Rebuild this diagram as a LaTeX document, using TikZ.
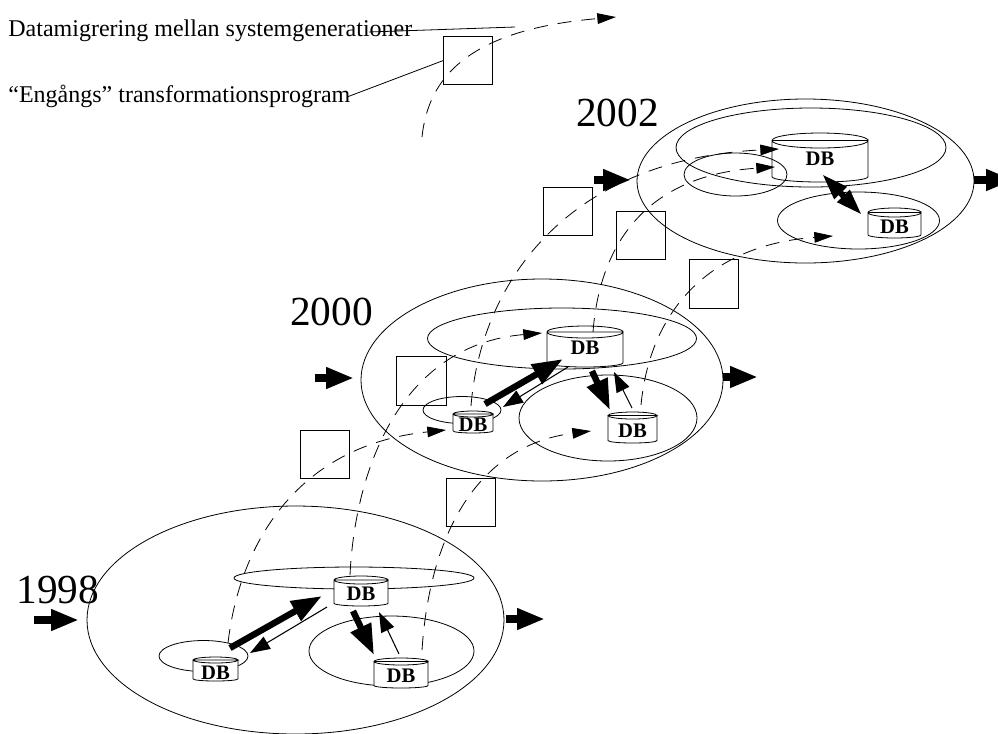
\documentclass[tikz,border=0pt]{standalone}
\usepackage{fontspec}
\setmainfont{Liberation Serif}
\usetikzlibrary{arrows.meta,shapes.geometric}
\tikzset{
  ring/.style={ellipse,draw,inner sep=0pt,outer sep=0pt},
  box/.style={rectangle,draw,inner sep=0pt,outer sep=0pt,minimum width=37pt,minimum height=36.5pt},
  migr/.style={dash pattern=on 10.5pt off 7.5pt,-{Triangle[length=14pt,width=8pt]}},
  blockarrow/.style={line width=6pt,-{Triangle[length=21pt,width=15pt]}},
  thickarrow/.style={line width=4.8pt,-{Triangle[length=23pt,width=16pt]}},
  twohead/.style={line width=4.5pt,{Triangle[length=20pt,width=12pt]}-{Triangle[length=20pt,width=12pt]}},
  thinarrow/.style={line width=0.8pt,-{Triangle[length=15pt,width=10.5pt]}},
  leader/.style={line width=0.6pt},
  label/.style={anchor=west,inner sep=0pt,font=\fontsize{18pt}{20pt}\selectfont},
  year/.style={inner sep=0pt,font=\fontsize{31pt}{34pt}\selectfont},
  dbtext/.style={inner sep=0pt,font=\fontsize{15.5pt}{17pt}\selectfont\bfseries}
}
\newcommand{\ringat}[5]{\node[ring,minimum width={#4*1.5pt},minimum height={#5*1.5pt}] (#1) at (#2,#3) {};}
\newcommand{\boxat}[3]{\node[box] (#1) at (#2,#3) {};}
% name, x0, y0, x1, y1, ry, text y
\newcommand{\dbat}[7]{%
  \path[draw,fill=white] (#2,{#3+#6}) -- (#2,{#5-0.7*#6})
     arc[start angle=180,end angle=0,x radius={(#4-#2)/2},y radius={0.7*#6}]
     -- (#4,{#3+#6})
     arc[start angle=0,end angle=360,x radius={(#4-#2)/2},y radius=#6] -- cycle;
  \node[dbtext] (#1) at ({(#2+#4)/2},#7) {DB};}
\begin{document}
\begin{tikzpicture}[x=0.75pt,y=-0.75pt,line width=0.6pt]
\useasboundingbox (0,0) rectangle (998,733);
\clip (0,0) rectangle (998,733);

% labels and legend
\node[label] (t1) at (8,31) {Datamigrering mellan systemgenerationer};
\node[label] (t2) at (8,96) {“Engångs” transformationsprogram};
\boxat{s0}{468}{60.5}
\coordinate (l1a) at (369,32); \coordinate (l1b) at (515,27);
\coordinate (l2a) at (347,97);
\draw[leader] (l1a) -- (l1b);
\draw[leader] (l2a) -- (s0.west);
\coordinate (d0a) at (422,137); \coordinate (d0b) at (616,17);
\draw[migr] (d0a) .. controls (428,80) and (465,30) .. (d0b);

% years
\node[year] (y02) at (617.5,113) {2002};
\node[year] (y00) at (331.5,312) {2000};
\node[year] (y98) at (58,590) {1998};

% 1998
\node[ring,minimum width=312.75pt,minimum height=171pt] (e98) at (295.5,620) {};
\ringat{e98t}{354}{578}{120}{11}
\ringat{e98l}{203.5}{656}{44.5}{15.5}
\ringat{e98r}{391.5}{651}{82.5}{35}
\dbat{db98t}{334}{576}{388}{606}{4}{594}
\dbat{db98l}{193}{657}{238}{681}{3}{673}
\dbat{db98r}{374}{658}{428}{688}{3.5}{676}

% 2000
\node[ring,minimum width=271.5pt,minimum height=151.5pt] (e00) at (542,380) {};
\ringat{e00t}{562}{338.5}{134.5}{30.5}
\ringat{e00l}{462}{410}{39}{13.5}
\ringat{e00r}{608}{418}{89}{43}
\dbat{db00t}{547}{326}{623}{367}{6}{348}
\dbat{db00l}{453}{411}{493}{433}{3}{425}
\dbat{db00r}{608}{412}{657}{443}{3.5}{431}

% 2002
\node[ring,minimum width=252.75pt,minimum height=123pt] (e02) at (805.5,181) {};
\ringat{e02t}{811}{147.5}{135}{39.5}
\dbat{db02t}{772}{133}{868}{182}{7.5}{159}
\ringat{e02l}{735.5}{174.5}{51.5}{21.5}
\ringat{e02r}{858.5}{220.5}{81}{28.5}
\dbat{db02r}{868}{208}{921}{238}{4.5}{227}

% transformation program squares
\boxat{s1}{325}{454.5}
\boxat{s2}{421.5}{381}
\boxat{s3}{471}{502.5}
\boxat{s4}{568}{211.5}
\boxat{s5}{641}{235.5}
\boxat{s6}{714}{284}

% migration curves
\coordinate (a1) at (228,643); \coordinate (a2) at (446,430);
\coordinate (b1) at (350,575); \coordinate (b2) at (542,333);
\coordinate (c1) at (422,650); \coordinate (c2) at (591,431);
\coordinate (d1) at (471,406); \coordinate (d2) at (779,149);
\coordinate (f1) at (593,332); \coordinate (f2) at (775,167);
\coordinate (g1) at (641,405); \coordinate (g2) at (833,236);
\draw[migr] (a1) .. controls (240,540) and (300,445) .. (a2);
\draw[migr] (b1) .. controls (355,470) and (400,345) .. (b2);
\draw[migr] (c1) .. controls (430,530) and (480,445) .. (c2);
\draw[migr] (d1) .. controls (480,290) and (560,160) .. (d2);
\draw[migr] (f1) .. controls (600,240) and (650,175) .. (f2);
\draw[migr] (g1) .. controls (650,310) and (710,245) .. (g2);

% system inputs and outputs
\coordinate (i98a) at (34,620); \coordinate (i98b) at (79,620);
\coordinate (o98a) at (506,619); \coordinate (o98b) at (545,619);
\coordinate (i00a) at (315,378); \coordinate (i00b) at (354,378);
\coordinate (o00a) at (723,377); \coordinate (o00b) at (758,377);
\coordinate (i02a) at (594,180); \coordinate (i02b) at (631,180);
\coordinate (o02a) at (974,180); \coordinate (o02b) at (1014,180);
\draw[blockarrow] (i98a) -- (i98b);
\draw[blockarrow] (o98a) -- (o98b);
\draw[blockarrow] (i00a) -- (i00b);
\draw[blockarrow] (o00a) -- (o00b);
\draw[blockarrow] (i02a) -- (i02b);
\draw[blockarrow] (o02a) -- (o02b);

% arrows between databases, 1998
\coordinate (p1) at (230,648); \coordinate (p2) at (322,596);
\coordinate (p3) at (327,607); \coordinate (p4) at (250,653);
\coordinate (p5) at (353,611); \coordinate (p6) at (374,655);
\coordinate (p7) at (399,654); \coordinate (p8) at (379,612);
\draw[thickarrow] (p1) -- (p2);
\draw[thinarrow] (p3) -- (p4);
\draw[thickarrow] (p5) -- (p6);
\draw[thinarrow] (p7) -- (p8);

% arrows between databases, 2000
\coordinate (q1) at (485,404); \coordinate (q2) at (563,359);
\coordinate (q3) at (568,367); \coordinate (q4) at (503,407);
\coordinate (q5) at (592,371); \coordinate (q6) at (610,410);
\coordinate (q7) at (632,408); \coordinate (q8) at (614,372);
\draw[thickarrow] (q1) -- (q2);
\draw[thinarrow] (q3) -- (q4);
\draw[thickarrow] (q5) -- (q6);
\draw[thinarrow] (q7) -- (q8);

% arrow between databases, 2002
\coordinate (r1) at (822,174); \coordinate (r2) at (862,215);
\draw[twohead] (r1) -- (r2);
\end{tikzpicture}
\end{document}
